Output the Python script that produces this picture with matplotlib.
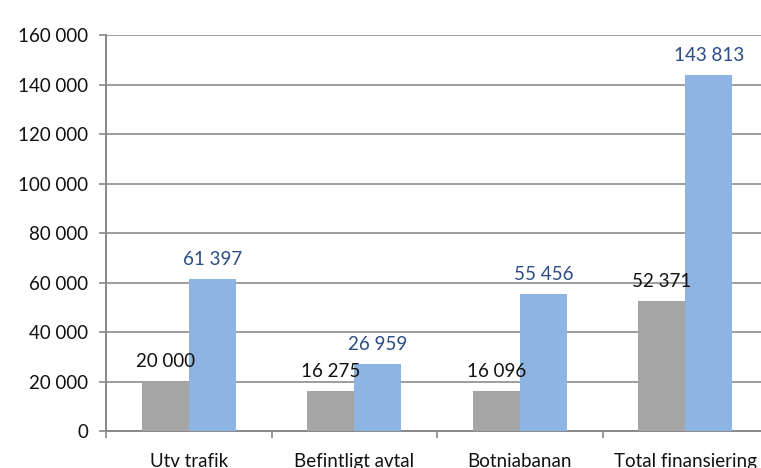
import numpy as np
import matplotlib.pyplot as plt

categories = ["Utv trafik", "Befintligt avtal", "Botniabanan", "Total finansiering"]
gray_values = [20000, 16275, 16096, 52371]
blue_values = [61397, 26959, 55456, 143813]
yticks = [0, 20000, 40000, 60000, 80000, 100000, 120000, 140000, 160000]


def fmt(v):
    return "{:,}".format(int(v)).replace(",", " ")


plt.rcParams['font.family'] = ['Lato', 'DejaVu Sans']

fig = plt.figure(figsize=(7.61, 4.68), dpi=100)
ax = fig.add_axes([0.1393, 0.079, 0.870, 0.846])

x = np.arange(len(categories))
w = 0.285
gray_color = "#A5A5A5"
blue_color = "#8EB4E3"

ax.bar(x - w / 2, gray_values, w, color=gray_color, zorder=3)
ax.bar(x + w / 2, blue_values, w, color=blue_color, zorder=3)

for xi, v in zip(x, gray_values):
    ax.annotate(fmt(v), (xi - w / 2, v), xytext=(0, 8), textcoords="offset points",
                ha="center", va="bottom", fontsize=13.5, color="#111111", zorder=4)
for xi, v in zip(x, blue_values):
    ax.annotate(fmt(v), (xi + w / 2, v), xytext=(0, 8), textcoords="offset points",
                ha="center", va="bottom", fontsize=13.5, color="#2B4C85", zorder=4)

ax.set_xlim(-0.5, len(categories) - 0.5)
ax.set_ylim(0, 160000)
ax.set_yticks(yticks)
ax.set_yticklabels([fmt(t) for t in yticks], fontsize=13.5, color="#111111")
ax.set_xticks(x)
ax.set_xticklabels(categories, fontsize=13.5, color="#111111")
ax.set_xticks(np.arange(len(categories) + 1) - 0.5, minor=True)

ax.tick_params(axis="x", which="major", length=0, pad=16)
ax.tick_params(axis="x", which="minor", length=5, width=1.2, color="#888888", direction="out")
ax.tick_params(axis="y", length=5, width=1.2, color="#888888", pad=8)

ax.grid(axis="y", color="#8c8c8c", linewidth=1.2, zorder=0)
for side in ["top", "right"]:
    ax.spines[side].set_visible(False)
for side in ["left", "bottom"]:
    ax.spines[side].set_color("#888888")
    ax.spines[side].set_linewidth(1.4)

fig.savefig("out.png", dpi=100)
